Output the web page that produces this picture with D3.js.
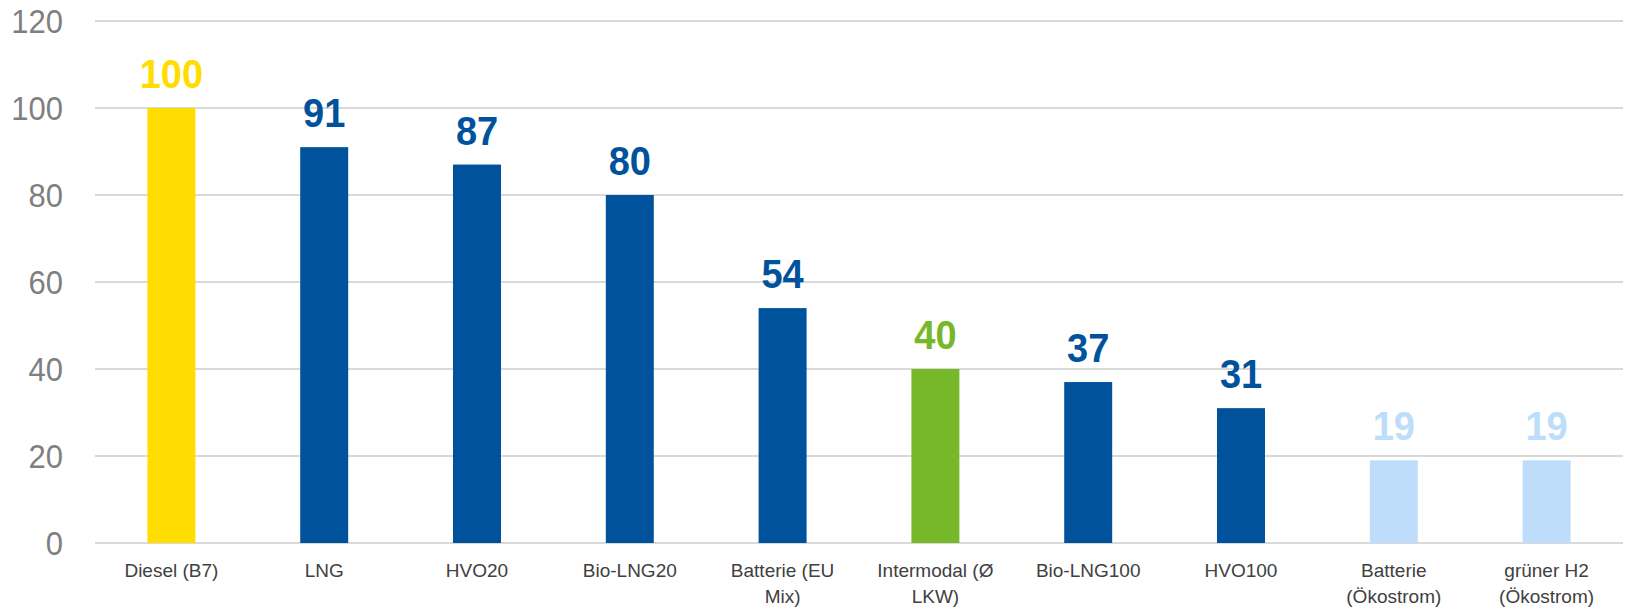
<!DOCTYPE html>
<html><head><meta charset="utf-8">
<script src="https://cdn.jsdelivr.net/npm/d3@7"></script>
<style>body{margin:0;background:#fff}svg{display:block}</style>
</head><body><svg id="c" width="1626" height="609"></svg>
<script>
const categories = [["Diesel (B7)"],["LNG"],["HVO20"],["Bio-LNG20"],["Batterie (EU","Mix)"],["Intermodal (Ø","LKW)"],["Bio-LNG100"],["HVO100"],["Batterie","(Ökostrom)"],["grüner H2","(Ökostrom)"]];
const values = [100, 91, 87, 80, 54, 40, 37, 31, 19, 19];
const groups = ["diesel","alt","alt","alt","alt","intermodal","alt","alt","green","green"];
const yTicks = [0, 20, 40, 60, 80, 100, 120];

const colorOf = {diesel:"#FFDD00", alt:"#00529C", intermodal:"#76B82A", green:"#BDDDFB"};
const svg = d3.select("#c");
const m = {l:95, r:3, t:21, b:66};
const W = 1626, H = 609;
const x = d3.scaleBand().domain(d3.range(categories.length)).range([m.l, W-m.r]).paddingInner(0.686).paddingOuter(0.343);
const y = d3.scaleLinear().domain([0,120]).range([H-m.b, m.t]);

svg.append("g").selectAll("line").data(yTicks).join("line")
  .attr("x1", m.l).attr("x2", W-m.r).attr("y1", d=>y(d)).attr("y2", d=>y(d))
  .attr("stroke","#d9d9d9").attr("stroke-width",2);

const yAxis = d3.axisLeft(y).tickValues(yTicks).tickSize(0).tickPadding(0);
const ga = svg.append("g").attr("transform",`translate(63,0)`).call(yAxis);
ga.select(".domain").remove();
ga.selectAll(".tick").each(function(d){
  const t = d3.select(this).select("text");
  t.attr("font-family","Liberation Sans, Arial, sans-serif").attr("font-size",31).attr("fill","#7f7f7f")
   .attr("dy",null).attr("y",0).attr("dominant-baseline","central")
   .attr("transform","scale(1,1.08)");
});

svg.append("g").selectAll("rect").data(values).join("rect")
  .attr("x",(d,i)=>x(i)).attr("width",x.bandwidth())
  .attr("y",d=>y(d)).attr("height",d=>y(0)-y(d))
  .attr("fill",(d,i)=>colorOf[groups[i]]);

svg.append("g").selectAll("text").data(values).join("text")
  .attr("transform",(d,i)=>`translate(${x(i)+x.bandwidth()/2},${y(d)-20}) scale(1,1.07)`)
  .attr("text-anchor","middle").attr("font-family","Liberation Sans, Arial, sans-serif")
  .attr("font-weight","bold").attr("font-size",38)
  .attr("fill",(d,i)=>colorOf[groups[i]]).text(d=>d);

const xl = svg.append("g").selectAll("text").data(categories).join("text")
  .attr("x",(d,i)=>x(i)+x.bandwidth()/2).attr("y",577)
  .attr("text-anchor","middle").attr("font-family","Liberation Sans, Arial, sans-serif")
  .attr("font-size",19).attr("fill","#404040");
xl.selectAll("tspan").data(d=>d).join("tspan")
  .attr("x",function(){return this.parentNode.getAttribute("x");})
  .attr("dy",(d,j)=>j===0?0:26).text(d=>d);
</script></body></html>
